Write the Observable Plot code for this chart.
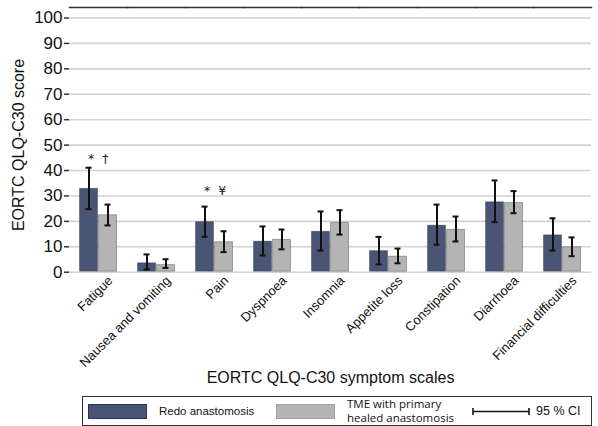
<!DOCTYPE html>
<html>
<head>
<meta charset="utf-8">
<script src="https://cdn.jsdelivr.net/npm/d3@7"></script>
<script src="https://cdn.jsdelivr.net/npm/@observablehq/plot@0.6"></script>
<style>
  html, body { margin: 0; padding: 0; background: #fff; overflow: hidden; }
  #wrap { position: relative; width: 598px; height: 426px; font-family: "Liberation Sans", Arial, sans-serif; color: #111; }
  #chart svg { display: block; }
  .legend { position: absolute; left: 82px; top: 396px; width: 508px; height: 28px; border: 1px solid #333; box-sizing: content-box; }
  .legend .sw { position: absolute; top: 7px; width: 59px; height: 15px; }
  .legend .lab { position: absolute; font-size: 11.5px; line-height: 14px; }
</style>
</head>
<body>
<div id="wrap">
  <div id="chart"></div>
  <div class="legend" id="legend"></div>
</div>
<script>
const categories = ["Fatigue", "Nausea and vomiting", "Pain", "Dyspnoea", "Insomnia", "Appetite loss", "Constipation", "Diarrhoea", "Financial difficulties"];
const groups = ["Redo anastomosis", "TME with primary healed anastomosis"];
const redoMean = [33.0, 3.7, 19.9, 12.2, 16.1, 8.5, 18.5, 27.7, 14.7];
const redoLow  = [24.8, 1.1, 13.9, 6.6, 8.5, 3.1, 10.8, 19.7, 8.5];
const redoHigh = [41.1, 7.0, 25.8, 18.0, 23.9, 13.9, 26.6, 36.1, 21.2];
const tmeMean  = [22.6, 3.0, 12.0, 12.9, 19.6, 6.3, 16.9, 27.4, 10.0];
const tmeLow   = [18.4, 1.7, 7.9, 9.0, 14.8, 3.5, 12.1, 23.2, 6.3];
const tmeHigh  = [26.6, 5.1, 16.1, 16.8, 24.4, 9.3, 21.9, 31.9, 13.7];
const yTicks = [0, 10, 20, 30, 40, 50, 60, 70, 80, 90, 100];
const yDomain = [-4.05, 104.13];
const annotations = [
  {category: "Fatigue", group: "Redo anastomosis", y: 42.8, label: "*  †"},
  {category: "Pain", group: "Redo anastomosis", y: 30.2, label: "*  ¥"}
];
const colors = ["#4a5575", "#b4b4b4"];

const rows = categories.flatMap((c, i) => [
  {category: c, group: groups[0], mean: redoMean[i], low: redoLow[i], high: redoHigh[i]},
  {category: c, group: groups[1], mean: tmeMean[i], low: tmeLow[i], high: tmeHigh[i]}
]);

const chart = Plot.plot({
  width: 598,
  height: 392,
  marginLeft: 68,
  marginRight: 6,
  marginTop: 7,
  marginBottom: 110,
  style: {fontFamily: "'Liberation Sans', Arial, sans-serif", color: "#111", background: "#fff"},
  fx: {domain: categories, paddingInner: 0, paddingOuter: 0},
  x: {domain: groups, paddingInner: 0, paddingOuter: 0.493, axis: null},
  y: {domain: yDomain},
  color: {domain: groups, range: colors},
  marks: [
    Plot.gridY(yTicks, {stroke: "#d2d2d2", strokeOpacity: 1, strokeWidth: 1.6}),
    Plot.barY(rows, {fx: "category", x: "group", y: "mean", fill: "group", stroke: "#000", strokeOpacity: 0.28, strokeWidth: 1, inset: 0.5}),
    Plot.ruleX(rows, {fx: "category", x: "group", y1: "low", y2: "high", stroke: "#111", strokeWidth: 2}),
    Plot.tickY(rows, {fx: "category", x: "group", y: "low", stroke: "#111", strokeWidth: 2, insetLeft: 6.5, insetRight: 6.5}),
    Plot.tickY(rows, {fx: "category", x: "group", y: "high", stroke: "#111", strokeWidth: 2, insetLeft: 6.5, insetRight: 6.5}),
    Plot.text(annotations, {fx: "category", x: "group", y: "y", text: "label", textAnchor: "start", lineAnchor: "bottom", fontSize: 12.5, fontFamily: "'DejaVu Sans', sans-serif", fill: "#222", dx: -1}),
    Plot.frame({anchor: "top", stroke: "#333", strokeWidth: 1.5}),
    Plot.axisY(yTicks, {anchor: "left", tickSize: 5, tickPadding: 2, fontSize: 17, line: true, stroke: "#333", strokeWidth: 1.5,
      label: "EORTC QLQ-C30 score", labelAnchor: "center", labelOffset: 57, labelArrow: "none"}),
    Plot.axisFx({anchor: "bottom", tickSize: 0, tickPadding: 6, tickRotate: -45, fontSize: 13, dx: 12, dy: -10, line: true, stroke: "#222", strokeWidth: 2,
      label: null}),
    Plot.axisFx({anchor: "bottom", ticks: [], tickSize: 0, label: "EORTC QLQ-C30 symptom scales", labelAnchor: "center", labelOffset: 100, labelArrow: "none"})
  ]
});
document.getElementById("chart").appendChild(chart);

// axis titles at 16px
d3.select(chart).selectAll("g[aria-label='fx-axis label'] text, g[aria-label='y-axis label'] text").attr("font-size", 16);

// Legend (HTML)
const lg = document.getElementById("legend");
function add(html) { lg.insertAdjacentHTML("beforeend", html); }
add(`<div class="sw" style="left:5px;background:${colors[0]};border:1px solid #2b3455;box-sizing:border-box"></div>`);
add(`<div class="lab" style="left:76px;top:7px">${groups[0]}</div>`);
add(`<div class="sw" style="left:193px;background:${colors[1]};border:1px solid #a3a3a3;box-sizing:border-box"></div>`);
add(`<div class="lab" style="left:264px;top:0px;font-family:'Open Sans',sans-serif;font-size:11.5px;line-height:14px">TME with primary<br>healed anastomosis</div>`);
add(`<svg style="position:absolute;left:389px;top:10px" width="58" height="9"><line x1="1" y1="4.5" x2="57" y2="4.5" stroke="#111" stroke-width="1.6"/><line x1="1" y1="1" x2="1" y2="8" stroke="#111" stroke-width="1.6"/><line x1="57" y1="1" x2="57" y2="8" stroke="#111" stroke-width="1.6"/></svg>`);
add(`<div class="lab" style="left:453px;top:7px;font-size:12.5px">95 % CI</div>`);
</script>
</body>
</html>
